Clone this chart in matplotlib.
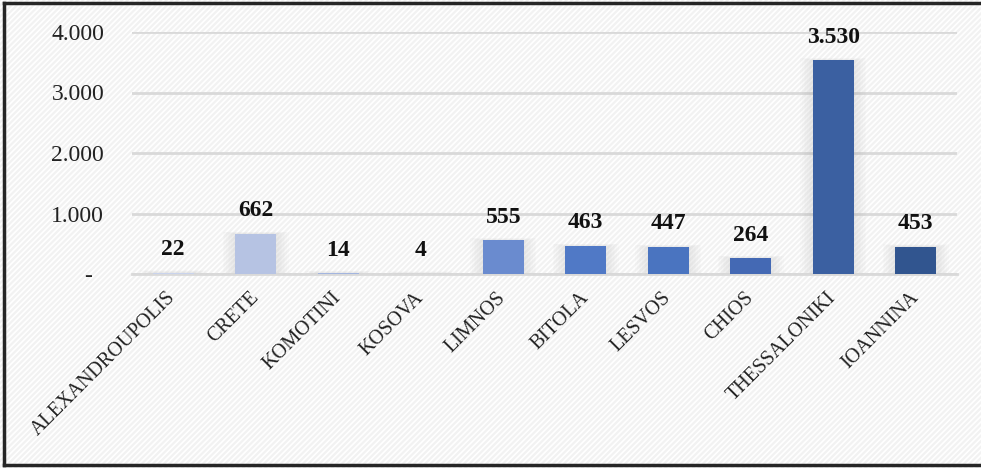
import matplotlib.pyplot as plt
from matplotlib.lines import Line2D
from matplotlib.patches import Rectangle
from matplotlib.ticker import FuncFormatter

cities = ["ALEXANDROUPOLIS", "CRETE", "KOMOTINI", "KOSOVA", "LIMNOS",
          "BITOLA", "LESVOS", "CHIOS", "THESSALONIKI", "IOANNINA"]
values = [22, 662, 14, 4, 555, 463, 447, 264, 3530, 453]
colors = ["#c9d3ec", "#b6c3e3", "#a3b5df", "#8fa6da", "#6a8bcf",
          "#5079c6", "#4a74c0", "#4469b4", "#3b60a1", "#31558f"]

plt.rcParams['font.family'] = ['Liberation Serif', 'DejaVu Serif']
plt.rcParams['hatch.linewidth'] = 1.6

fig = plt.figure(figsize=(9.81, 4.68), dpi=100)

# light diagonal hatching over the whole background
bg = Rectangle((0, 0), 1, 1, transform=fig.transFigure, facecolor='white',
               edgecolor='#f2f2f2', hatch='//////', linewidth=0, zorder=-10)
fig.patches.append(bg)

# dark frame: left, top and bottom edges only
for xs, ys in [([0.0045, 0.0045], [0.006, 0.994]),
               ([0.0045, 1.0], [0.994, 0.994]),
               ([0.0045, 1.0], [0.006, 0.006])]:
    fig.add_artist(Line2D(xs, ys, transform=fig.transFigure,
                          color='#262626', linewidth=2.5))

ax = fig.add_axes([132 / 981, 1 - 274 / 468, 825 / 981, 242 / 468])
ax.patch.set_alpha(0)

x = list(range(len(cities)))
width = 0.5

# soft shadow behind each bar
for xi, v in zip(x, values):
    for k in range(8):
        pad = 0.01 + k * 0.02
        ax.add_patch(Rectangle((xi - width / 2 - pad, 0), width + 2 * pad,
                               v + pad * 250, facecolor='#9a9a9a',
                               alpha=0.025, linewidth=0, zorder=1))

bars = ax.bar(x, values, width=width, color=colors, zorder=3)

for b, v in zip(bars, values):
    label = f"{v:,}".replace(',', '.')
    ax.annotate(label, (b.get_x() + b.get_width() / 2, v),
                xytext=(0, 9), textcoords='offset points',
                ha='center', va='bottom', fontsize=17, fontweight='bold',
                color='#111111')

ax.set_xlim(-0.5, len(cities) - 0.5)
ax.set_ylim(0, 4000)
ax.set_yticks([0, 1000, 2000, 3000, 4000])
ax.yaxis.set_major_formatter(FuncFormatter(
    lambda v, p: '-  ' if v == 0 else f"{v:,.0f}".replace(',', '.')))
ax.grid(axis='y', color='#d9d9d9', linewidth=2, zorder=0)
ax.set_axisbelow(True)

for s in ['top', 'right', 'left']:
    ax.spines[s].set_visible(False)
ax.spines['bottom'].set_color('#d9d9d9')
ax.spines['bottom'].set_linewidth(2)

ax.set_xticks(x)
ax.set_xticklabels(cities, rotation=45, ha='right', va='center',
                   rotation_mode='anchor', fontsize=14.5, color='#222222')
ax.tick_params(axis='x', length=0, pad=15)
ax.tick_params(axis='y', length=0, pad=20, labelsize=17, labelcolor='#222222')

fig.savefig('out.png', dpi=100)
